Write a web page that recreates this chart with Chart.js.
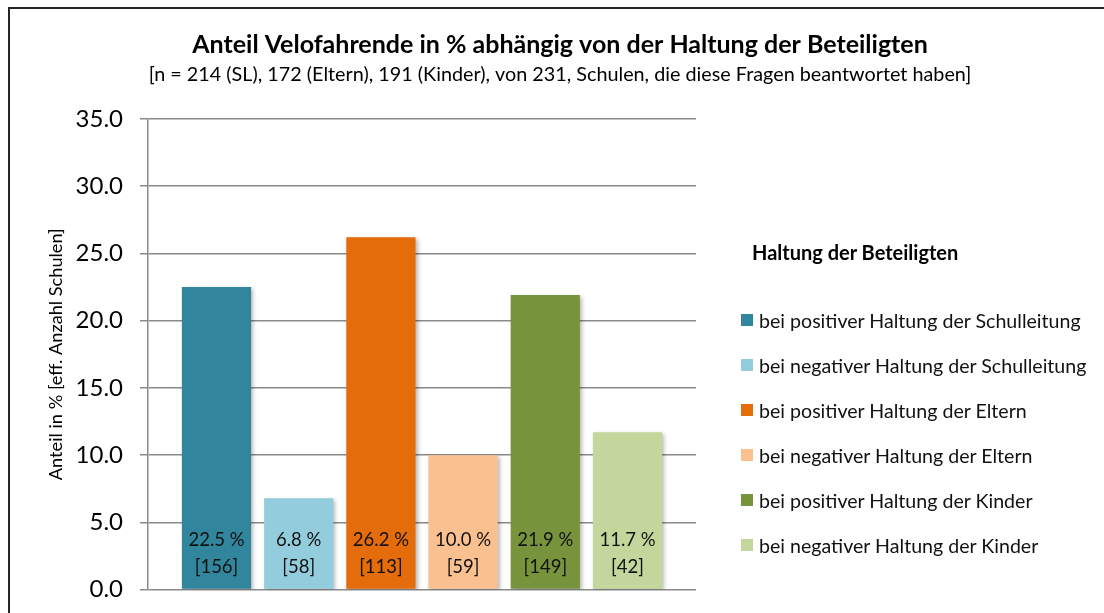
<!DOCTYPE html>
<html>
<head>
<meta charset="utf-8">
<script src="https://cdn.jsdelivr.net/npm/chart.js@4.4.1/dist/chart.umd.min.js"></script>
<style>
  html, body { margin: 0; padding: 0; background: #fff; overflow: hidden; }
  #frame {
    position: absolute; left: 8px; top: 7px;
    border-left: 2px solid #262626; border-top: 2px solid #262626;
    width: 1100px; height: 612px;
  }
  #legend { position: absolute; left: 741px; top: 0; font-family: Lato, "Noto Sans", sans-serif; color: #111; }
  #legend .head { position: absolute; left: 11px; top: 240px; line-height: 24px; font-size: 20px; font-weight: bold; color: #000; white-space: nowrap; }
  #legend ul { position: absolute; left: 0; top: 297.5px; margin: 0; padding: 0; list-style: none; }
  #legend li { display: flex; align-items: center; height: 45px; font-size: 19.6px; white-space: nowrap; }
  #legend li span.box { display: inline-block; width: 12px; height: 12px; margin-right: 6px; }
</style>
</head>
<body>
<div id="frame"><canvas id="velo" width="1100" height="612"></canvas></div>
<div id="legend"><div class="head">Haltung der Beteiligten</div><ul></ul></div>
<script>
const categories = [''];
const seriesLabels = [
  'bei positiver Haltung der Schulleitung',
  'bei negativer Haltung der Schulleitung',
  'bei positiver Haltung der Eltern',
  'bei negativer Haltung der Eltern',
  'bei positiver Haltung der Kinder',
  'bei negativer Haltung der Kinder'
];
const shares = [22.5, 6.8, 26.2, 10.0, 21.9, 11.7];
const schoolCounts = [156, 58, 113, 59, 149, 42];
const barColors = ['#31859C', '#93CDDD', '#E46C0A', '#FAC090', '#77933C', '#C3D69B'];
const yMin = 0, yMax = 35, yStep = 5;

const FONT = 'Lato, "Noto Sans", sans-serif';
Chart.defaults.font.family = FONT;
Chart.defaults.color = '#000';

// soft shadow under the bars, like the Excel original
const barShadow = {
  id: 'barShadow',
  beforeDatasetsDraw(chart) {
    const c = chart.ctx;
    c.save();
    c.shadowColor = 'rgba(0,0,0,0.28)';
    c.shadowBlur = 4;
    c.shadowOffsetX = 2;
    c.shadowOffsetY = 2;
  },
  afterDatasetsDraw(chart) {
    chart.ctx.restore();
  }
};

// "22.5 %" / "[156]" at the foot of every bar
const barLabels = {
  id: 'barLabels',
  afterDatasetsDraw(chart) {
    const c = chart.ctx;
    const y0 = chart.scales.y.getPixelForValue(0);
    c.save();
    c.font = '18.5px ' + FONT;
    c.fillStyle = '#111';
    c.textAlign = 'center';
    c.textBaseline = 'middle';
    chart.data.datasets.forEach((ds, i) => {
      const bar = chart.getDatasetMeta(i).data[0];
      c.fillText(shares[i].toFixed(1) + ' %', bar.x, y0 - 50);
      c.fillText('[' + schoolCounts[i] + ']', bar.x, y0 - 23);
    });
    c.restore();
  }
};

const chart = new Chart(document.getElementById('velo'), {
  type: 'bar',
  data: {
    labels: categories,
    datasets: seriesLabels.map((name, i) => ({
      label: name,
      data: [shares[i]],
      backgroundColor: barColors[i],
      borderWidth: 0,
      categoryPercentage: 0.9,
      barPercentage: 0.842
    }))
  },
  options: {
    responsive: false,
    animation: false,
    layout: { padding: 0 },
    plugins: {
      title: {
        display: true,
        text: 'Anteil Velofahrende in % abhängig von der Haltung der Beteiligten',
        font: { size: 25, weight: 'bold' },
        padding: { top: 21, bottom: 0 }
      },
      subtitle: {
        display: true,
        text: '[n = 214 (SL), 172 (Eltern), 191 (Kinder), von 231, Schulen, die diese Fragen beantwortet haben]',
        font: { size: 19.8 },
        color: '#000',
        padding: { top: 2.6, bottom: 32.6 }
      },
      legend: { display: false },
      tooltip: { enabled: false }
    },
    scales: {
      x: { display: false },
      y: {
        min: yMin,
        max: yMax,
        ticks: {
          stepSize: yStep,
          padding: 17,
          font: { size: 24 },
          callback: v => v.toFixed(1)
        },
        grid: { color: '#8a8a8a', lineWidth: 1.5, tickLength: 8 },
        border: { color: '#8a8a8a', width: 1.5 },
        title: {
          display: true,
          text: 'Anteil in % [eff. Anzahl Schulen]',
          font: { size: 18.2 },
          padding: { top: 35, bottom: 0 }
        },
        afterFit(s) { s.width = 138; }
      },
      // empty room on the right where the legend sits
      legendRoom: {
        position: 'right',
        display: false,
        afterFit(s) { s.width = 414; }
      }
    }
  },
  plugins: [barShadow, barLabels]
});

// legend built from the chart's own legend items
const list = document.querySelector('#legend ul');
chart.options.plugins.legend.labels.generateLabels(chart).forEach(item => {
  const li = document.createElement('li');
  const box = document.createElement('span');
  box.className = 'box';
  box.style.background = item.fillStyle;
  li.appendChild(box);
  li.appendChild(document.createTextNode(item.text));
  list.appendChild(li);
});
</script>
</body>
</html>
